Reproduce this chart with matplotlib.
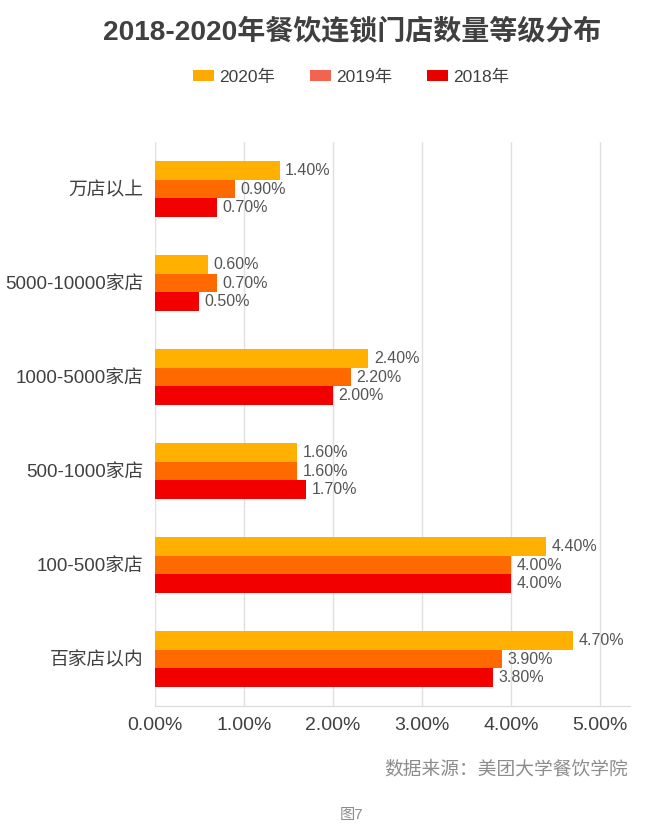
import matplotlib
matplotlib.use("Agg")
import matplotlib.pyplot as plt
from matplotlib.patches import Patch
import numpy as np

plt.rcParams['font.family'] = ['Liberation Sans', 'Noto Sans CJK SC', 'DejaVu Sans']

categories = ["万店以上", "5000-10000家店", "1000-5000家店", "500-1000家店", "100-500家店", "百家店以内"]
v2020 = [1.40, 0.60, 2.40, 1.60, 4.40, 4.70]
v2019 = [0.90, 0.70, 2.20, 1.60, 4.00, 3.90]
v2018 = [0.70, 0.50, 2.00, 1.70, 4.00, 3.80]
series_names = ["2020年", "2019年", "2018年"]
bar_colors = ["#FFB000", "#FF6A00", "#F20000"]
legend_colors = ["#FFAA00", "#F26450", "#E60000"]
xticks = [0, 1, 2, 3, 4, 5]

fig = plt.figure(figsize=(6.57, 8.35), dpi=100)
W, H = 657, 835
ax = fig.add_axes([155 / W, 1 - 706 / H, (630 - 155) / W, (706 - 142) / H])

n = len(categories)
y = np.arange(n)
bh = 0.2
series = [v2020, v2019, v2018]
offsets = [-bh, 0, bh]
for vals, off, col in zip(series, offsets, bar_colors):
    bars = ax.barh(y + off, vals, height=bh, color=col, zorder=3)
    for b, v in zip(bars, vals):
        ax.text(v + 0.06, b.get_y() + b.get_height() / 2, f"{v:.2f}%",
                va="center", ha="left", fontsize=11.5, color="#555555", zorder=4)

ax.set_ylim(n - 0.5, -0.5)
ax.set_xlim(0, 5.34)
ax.set_yticks(y)
ax.set_yticklabels(categories, fontsize=13.5, color="#404040")
ax.set_xticks(xticks)
ax.set_xticklabels([f"{t:.2f}%" for t in xticks], fontsize=14, color="#404040")
ax.tick_params(axis="y", length=0, pad=8.5)
ax.tick_params(axis="x", length=0, pad=8)
ax.grid(axis="x", color="#E0E0E0", linewidth=1, zorder=0)
for s in ["top", "right", "left"]:
    ax.spines[s].set_visible(False)
ax.spines["bottom"].set_color("#D9D9D9")

fig.text(352 / W, 1 - 32 / H, "2018-2020年餐饮连锁门店数量等级分布", ha="center", va="center",
         fontsize=20.2, fontweight="bold", color="#404040")
handles = [Patch(facecolor=c, edgecolor="none") for c in legend_colors]
fig.legend(handles, series_names, loc="center", bbox_to_anchor=(351 / W, 1 - 77 / H), ncol=3,
           frameon=False, fontsize=12.5, handlelength=1.2, handleheight=0.6, handletextpad=0.3,
           columnspacing=2.0, labelcolor="#404040")
fig.text(628 / W, 1 - 770 / H, "数据来源：美团大学餐饮学院", ha="right", va="center",
         fontsize=13.5, color="#8C8C8C")
fig.text(352 / W, 1 - 815 / H, "图7", ha="center", va="center", fontsize=11, color="#8C8C8C")

fig.savefig("out.png", dpi=100)
